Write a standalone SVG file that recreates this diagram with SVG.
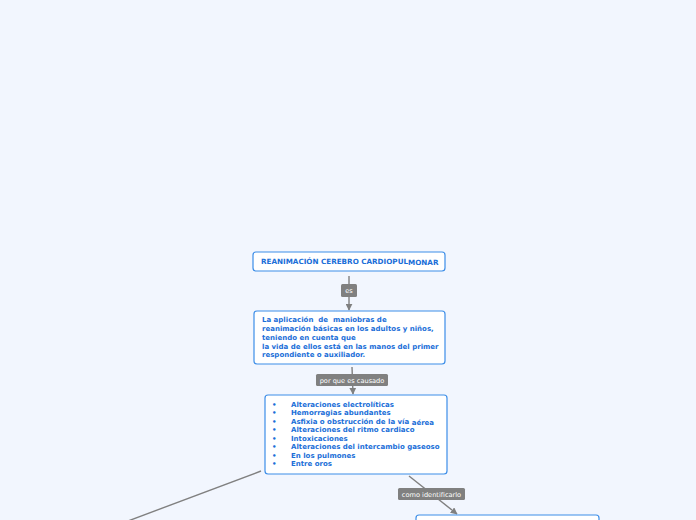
<svg xmlns="http://www.w3.org/2000/svg" width="696" height="520" viewBox="0 0 696 520">
<defs>
<style>
.node rect{fill:#ffffff;stroke:#3d8ee8;stroke-width:1.2}
.t{font-family:"DejaVu Sans",Verdana,sans-serif;font-weight:bold;font-size:7px;fill:#1a6ed8;white-space:pre}
.conn line{stroke:#808080;stroke-width:1.4}
.lbl rect{fill:#808080}
.lbl text{font-family:"DejaVu Sans",Verdana,sans-serif;font-size:6.6px;fill:#ffffff;text-anchor:middle}
</style>
<marker id="ah" viewBox="0 0 10 10" refX="9" refY="5" markerWidth="5" markerHeight="5" orient="auto">
<path d="M0,0 L10,5 L0,10 z" fill="#808080"/>
</marker>
</defs>
<rect width="696" height="520" fill="#f2f6fe"/>
<g id="connectors" class="conn">
<line x1="349" y1="276" x2="349" y2="310" marker-end="url(#ah)"/>
<line x1="352" y1="367" x2="353" y2="394" marker-end="url(#ah)"/>
<line x1="261" y1="471" x2="128" y2="521"/>
<line x1="409" y1="476" x2="457" y2="514" marker-end="url(#ah)"/>
<g class="lbl">
<rect x="341" y="284" width="16" height="13" rx="1.5"/>
<text x="349" y="293">es</text>
<rect x="316" y="374" width="72" height="12" rx="1.5"/>
<text x="352" y="382.5">por que es causado</text>
<rect x="398" y="488" width="67" height="12" rx="1.5"/>
<text x="431.5" y="496.5">como identificarlo</text>
</g>
</g>
<g id="node1" class="node">
<rect x="253" y="252" width="192" height="19" rx="3"/>
<text class="t" x="261" y="264" style="font-size:7.2px">REANIMACIÓN CEREBRO CARDIOPUL<tspan dy="1">MONAR</tspan></text>
</g>
<g id="node2" class="node">
<rect x="254" y="311" width="191" height="53" rx="3"/>
<text class="t" x="262" y="322">La aplicación  de  maniobras de</text>
<text class="t" x="262" y="331">reanimación básicas en los adultos y niños,</text>
<text class="t" x="262" y="339.5">teniendo en cuenta que</text>
<text class="t" x="262" y="348.5">la vida de ellos está en las manos del primer</text>
<text class="t" x="262" y="357">respondiente o auxiliador.</text>
</g>
<g id="node3" class="node">
<rect x="265" y="395" width="182" height="79" rx="3"/>
<text class="t" x="272" y="406.5">•</text><text class="t" x="291" y="406.5">Alteraciones electrolíticas</text>
<text class="t" x="272" y="415">•</text><text class="t" x="291" y="415">Hemorragias abundantes</text>
<text class="t" x="272" y="423.5">•</text><text class="t" x="291" y="423.5">Asfixia o obstrucción de la vía <tspan dy="1">aérea</tspan></text>
<text class="t" x="272" y="432">•</text><text class="t" x="291" y="432">Alteraciones del ritmo cardiaco</text>
<text class="t" x="272" y="440.5">•</text><text class="t" x="291" y="440.5">Intoxicaciones</text>
<text class="t" x="272" y="449">•</text><text class="t" x="291" y="449">Alteraciones del intercambio gaseoso</text>
<text class="t" x="272" y="457.5">•</text><text class="t" x="291" y="457.5">En los pulmones</text>
<text class="t" x="272" y="466">•</text><text class="t" x="291" y="466">Entre oros</text>
</g>
<g id="node4" class="node">
<rect x="416" y="515" width="183" height="20" rx="3"/>
</g>
</svg>
